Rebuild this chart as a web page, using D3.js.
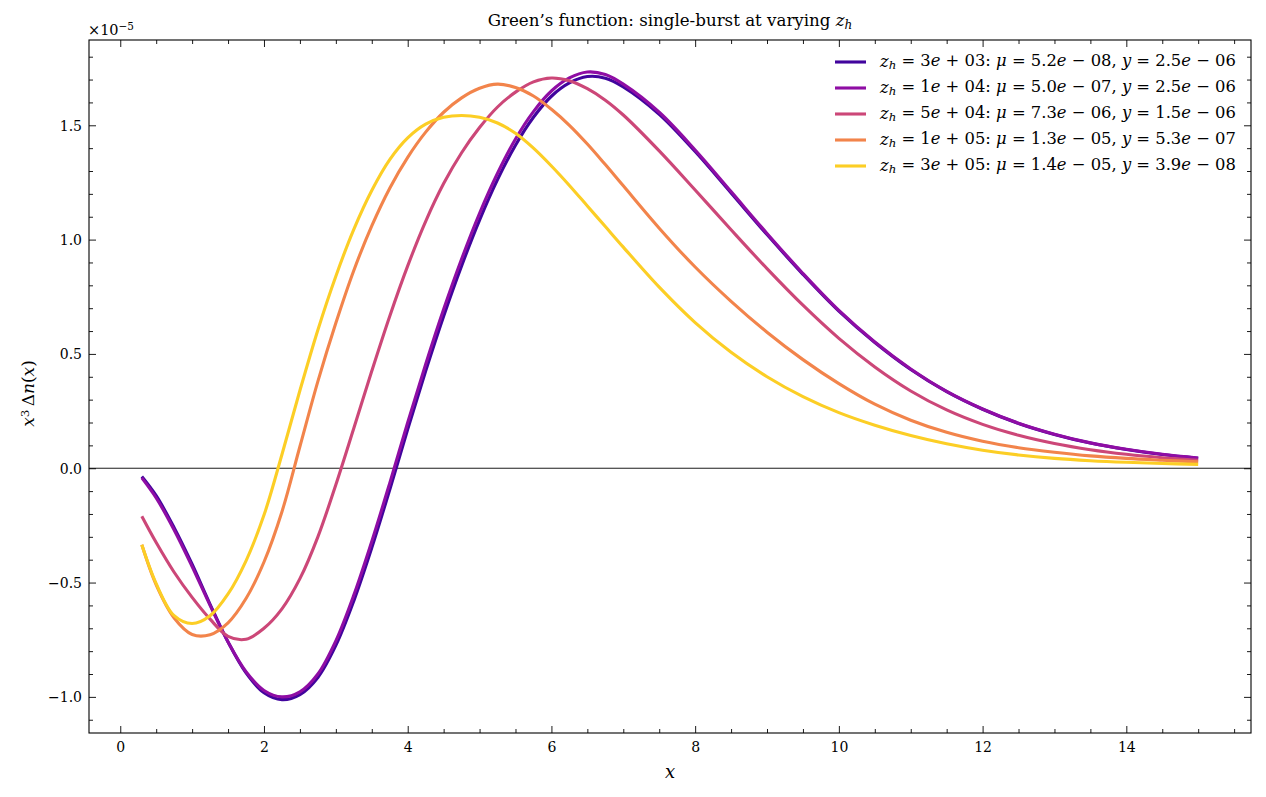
<!DOCTYPE html>
<html>
<head>
<meta charset="utf-8">
<script src="https://cdn.jsdelivr.net/npm/d3@7"></script>
<style>
  html, body { margin: 0; padding: 0; background: #fff; }
  svg text { font-family: "DejaVu Serif", "Liberation Serif", serif; fill: #000; }
</style>
</head>
<body>
<svg id="chart" width="1266" height="797"></svg>
<script>
// ---- data (values in units of 1e-5) ----
const xs = [0.3,0.5,0.75,1,1.25,1.5,1.75,2,2.25,2.5,2.75,3,3.25,3.5,3.75,4,4.25,4.5,4.75,5,5.25,5.5,5.75,6,6.25,6.5,6.75,7,7.5,8,8.5,9,9.5,10,10.5,11,11.5,12,12.5,13,13.5,14,14.5,15];

const zh3e3 = [-0.036,-0.12,-0.26,-0.42,-0.595,-0.76,-0.895,-0.982,-1.012,-0.99,-0.915,-0.775,-0.58,-0.348,-0.094,0.17,0.425,0.665,0.885,1.085,1.262,1.413,1.535,1.627,1.685,1.713,1.706,1.668,1.548,1.385,1.204,1.022,0.848,0.687,0.55,0.432,0.335,0.258,0.196,0.148,0.11,0.082,0.06,0.044];
const zh1e4 = [-0.042,-0.13,-0.27,-0.43,-0.60,-0.76,-0.89,-0.972,-1.0,-0.978,-0.90,-0.755,-0.555,-0.32,-0.065,0.20,0.455,0.695,0.915,1.115,1.29,1.44,1.56,1.65,1.707,1.733,1.722,1.68,1.557,1.392,1.21,1.027,0.852,0.69,0.552,0.434,0.336,0.259,0.197,0.149,0.111,0.083,0.061,0.045];
const zh5e4 = [-0.21,-0.325,-0.455,-0.565,-0.66,-0.735,-0.748,-0.70,-0.615,-0.483,-0.30,-0.072,0.175,0.425,0.665,0.885,1.08,1.245,1.38,1.49,1.58,1.645,1.69,1.707,1.695,1.66,1.61,1.545,1.388,1.217,1.043,0.873,0.713,0.568,0.443,0.338,0.255,0.192,0.144,0.108,0.081,0.061,0.046,0.035];
const zh1e5 = [-0.335,-0.51,-0.655,-0.727,-0.728,-0.676,-0.57,-0.41,-0.19,0.095,0.38,0.635,0.865,1.06,1.225,1.36,1.47,1.557,1.62,1.662,1.68,1.665,1.628,1.57,1.50,1.418,1.328,1.235,1.05,0.88,0.73,0.595,0.475,0.37,0.28,0.21,0.157,0.118,0.09,0.07,0.054,0.043,0.035,0.028];
const zh3e5 = [-0.335,-0.505,-0.645,-0.679,-0.645,-0.55,-0.405,-0.205,0.06,0.34,0.605,0.84,1.045,1.215,1.35,1.445,1.505,1.535,1.543,1.535,1.51,1.465,1.40,1.322,1.237,1.147,1.057,0.967,0.792,0.637,0.507,0.40,0.313,0.243,0.188,0.143,0.107,0.079,0.058,0.043,0.033,0.026,0.021,0.017];

const seriesValues = [zh3e3, zh1e4, zh5e4, zh1e5, zh3e5];
const seriesColors = ["#41049d", "#8f0da4", "#cc4778", "#f2844b", "#fcce25"];
const zhLabels = ["3e+03", "1e+04", "5e+04", "1e+05", "3e+05"];
const muLabels = ["5.2e\u221208", "5.0e\u221207", "7.3e\u221206", "1.3e\u221205", "1.4e\u221205"];
const yLabels  = ["2.5e\u221206", "2.5e\u221206", "1.5e\u221206", "5.3e\u221207", "3.9e\u221208"];

const xTicks = [0, 2, 4, 6, 8, 10, 12, 14];
const yTicks = [-1.0, -0.5, 0.0, 0.5, 1.0, 1.5];

// ---- layout ----
const svg = d3.select("#chart");
const L = 89, T = 40, R = 1251, B = 733;

const x = d3.scaleLinear().domain([-0.435, 15.735]).range([L, R]);
const y = d3.scaleLinear().domain([-1.158, 1.873]).range([B, T]);

// fit a text element's font size to a target width
function fitWidth(sel, target) {
  const w = sel.node().getBBox().width;
  const fs = parseFloat(sel.style("font-size"));
  sel.style("font-size", (fs * target / w).toFixed(2) + "px");
}

// zero line
svg.append("line").attr("x1", L).attr("x2", R).attr("y1", y(0)).attr("y2", y(0))
  .attr("stroke", "#000").attr("stroke-width", 0.9);

// curves
const line = d3.line().x((d) => x(d[0])).y((d) => y(d[1])).curve(d3.curveCatmullRom.alpha(0.5));
const plot = svg.append("g");
seriesValues.forEach((vals, i) => {
  plot.append("path")
    .datum(xs.map((xv, j) => [xv, vals[j]]))
    .attr("d", line)
    .attr("fill", "none")
    .attr("stroke", seriesColors[i])
    .attr("stroke-width", 3.1)
    .attr("stroke-linejoin", "round")
    .attr("stroke-linecap", "butt");
});

// axes frame
svg.append("rect").attr("x", L).attr("y", T).attr("width", R - L).attr("height", B - T)
  .attr("fill", "none").attr("stroke", "#000").attr("stroke-width", 1.1);

// ticks (inward, all sides)
const major = 7, minor = 4;
const xMinor = d3.range(0, 15.6, 0.5).filter(v => Math.abs(v / 2 - Math.round(v / 2)) > 1e-9);
const yMinor = d3.range(-1.1, 1.85, 0.1).map(v => Math.round(v * 10) / 10).filter(v => Math.abs(v * 2 - Math.round(v * 2)) > 1e-9);

const gB = svg.append("g").attr("transform", `translate(0,${B})`)
  .call(d3.axisBottom(x).tickValues(xTicks).tickSizeInner(-major).tickSizeOuter(0).tickFormat(d3.format("d")));
gB.select(".domain").remove();
gB.selectAll("text").attr("dy", "0").attr("y", 19).style("font-size", "14px");

const gBm = svg.append("g").attr("transform", `translate(0,${B})`)
  .call(d3.axisBottom(x).tickValues(xMinor).tickSizeInner(-minor).tickSizeOuter(0).tickFormat(""));
gBm.select(".domain").remove();

const gTop = svg.append("g").attr("transform", `translate(0,${T})`)
  .call(d3.axisTop(x).tickValues(xTicks).tickSizeInner(-major).tickSizeOuter(0).tickFormat(""));
gTop.select(".domain").remove();
const gTopm = svg.append("g").attr("transform", `translate(0,${T})`)
  .call(d3.axisTop(x).tickValues(xMinor).tickSizeInner(-minor).tickSizeOuter(0).tickFormat(""));
gTopm.select(".domain").remove();

const fmtY = (v) => (v < 0 ? "\u2212" : "") + Math.abs(v).toFixed(1);
const gL = svg.append("g").attr("transform", `translate(${L},0)`)
  .call(d3.axisLeft(y).tickValues(yTicks).tickSizeInner(-major).tickSizeOuter(0).tickFormat(fmtY));
gL.select(".domain").remove();
gL.selectAll("text").attr("x", -7).attr("dy", "0.36em").style("font-size", "14px");
const gLm = svg.append("g").attr("transform", `translate(${L},0)`)
  .call(d3.axisLeft(y).tickValues(yMinor).tickSizeInner(-minor).tickSizeOuter(0).tickFormat(""));
gLm.select(".domain").remove();

const gR = svg.append("g").attr("transform", `translate(${R},0)`)
  .call(d3.axisRight(y).tickValues(yTicks).tickSizeInner(-major).tickSizeOuter(0).tickFormat(""));
gR.select(".domain").remove();
const gRm = svg.append("g").attr("transform", `translate(${R},0)`)
  .call(d3.axisRight(y).tickValues(yMinor).tickSizeInner(-minor).tickSizeOuter(0).tickFormat(""));
gRm.select(".domain").remove();

svg.selectAll(".tick line").attr("stroke", "#000").attr("stroke-width", 0.9);

// offset text ×10^-5
const off = svg.append("text").attr("x", L - 1).attr("y", 35).style("font-size", "14.5px");
off.append("tspan").text("\u00d710");
off.append("tspan").attr("dy", "-0.5em").style("font-size", "0.72em").text("\u22125");

// title
const title = svg.append("text").attr("x", (L + R) / 2).attr("y", 26).attr("text-anchor", "middle").style("font-size", "14px");
title.append("tspan").text("Green\u2019s function: single-burst at varying ");
title.append("tspan").style("font-style", "italic").text("z");
title.append("tspan").attr("dy", "0.22em").style("font-size", "0.72em").style("font-style", "italic").text("h");
fitWidth(title, 365);

// x label
svg.append("text").attr("x", (L + R) / 2).attr("y", 778).attr("text-anchor", "middle")
  .style("font-size", "18px").style("font-style", "italic").text("x");

// y label
const yl = svg.append("text").attr("transform", `translate(34,${(T + B) / 2 + 7}) rotate(-90)`)
  .attr("text-anchor", "middle").style("font-size", "17px");
yl.append("tspan").style("font-style", "italic").text("x");
yl.append("tspan").attr("dy", "-0.45em").style("font-size", "0.7em").text("3");
yl.append("tspan").attr("dy", "0.32em").text("\u2009\u0394");
yl.append("tspan").style("font-style", "italic").text("n");
yl.append("tspan").text("(");
yl.append("tspan").style("font-style", "italic").text("x");
yl.append("tspan").text(")");

// legend
const lg = svg.append("g");
const rowY0 = 62, rowDy = 26;
let legendFont = null;
seriesValues.forEach((_, i) => {
  const ry = rowY0 + i * rowDy;
  lg.append("line").attr("x1", 835).attr("x2", 866).attr("y1", ry).attr("y2", ry)
    .attr("stroke", seriesColors[i]).attr("stroke-width", 3.1);
  const t = lg.append("text").attr("x", 880).attr("y", ry + 5).style("font-size", "15px");
  const addNum = (s) => {
    const m = s.match(/^([\d.]+)e([+\u2212])(\d+)$/);
    t.append("tspan").text(m[1]);
    t.append("tspan").style("font-style", "italic").text("e");
    t.append("tspan").text(" " + m[2] + " " + m[3]);
  };
  t.append("tspan").style("font-style", "italic").text("z");
  t.append("tspan").attr("dy", "0.2em").style("font-size", "0.72em").style("font-style", "italic").text("h");
  t.append("tspan").attr("dy", "-0.2em").text(" = ");
  addNum(zhLabels[i]);
  t.append("tspan").text(": ");
  t.append("tspan").style("font-style", "italic").text("\u03bc");
  t.append("tspan").text(" = ");
  addNum(muLabels[i]);
  t.append("tspan").text(", ");
  t.append("tspan").style("font-style", "italic").text("y");
  t.append("tspan").text(" = ");
  addNum(yLabels[i]);
  if (i === 0) { fitWidth(t, 357); legendFont = t.style("font-size"); }
  else t.style("font-size", legendFont);
});
</script>
</body>
</html>
